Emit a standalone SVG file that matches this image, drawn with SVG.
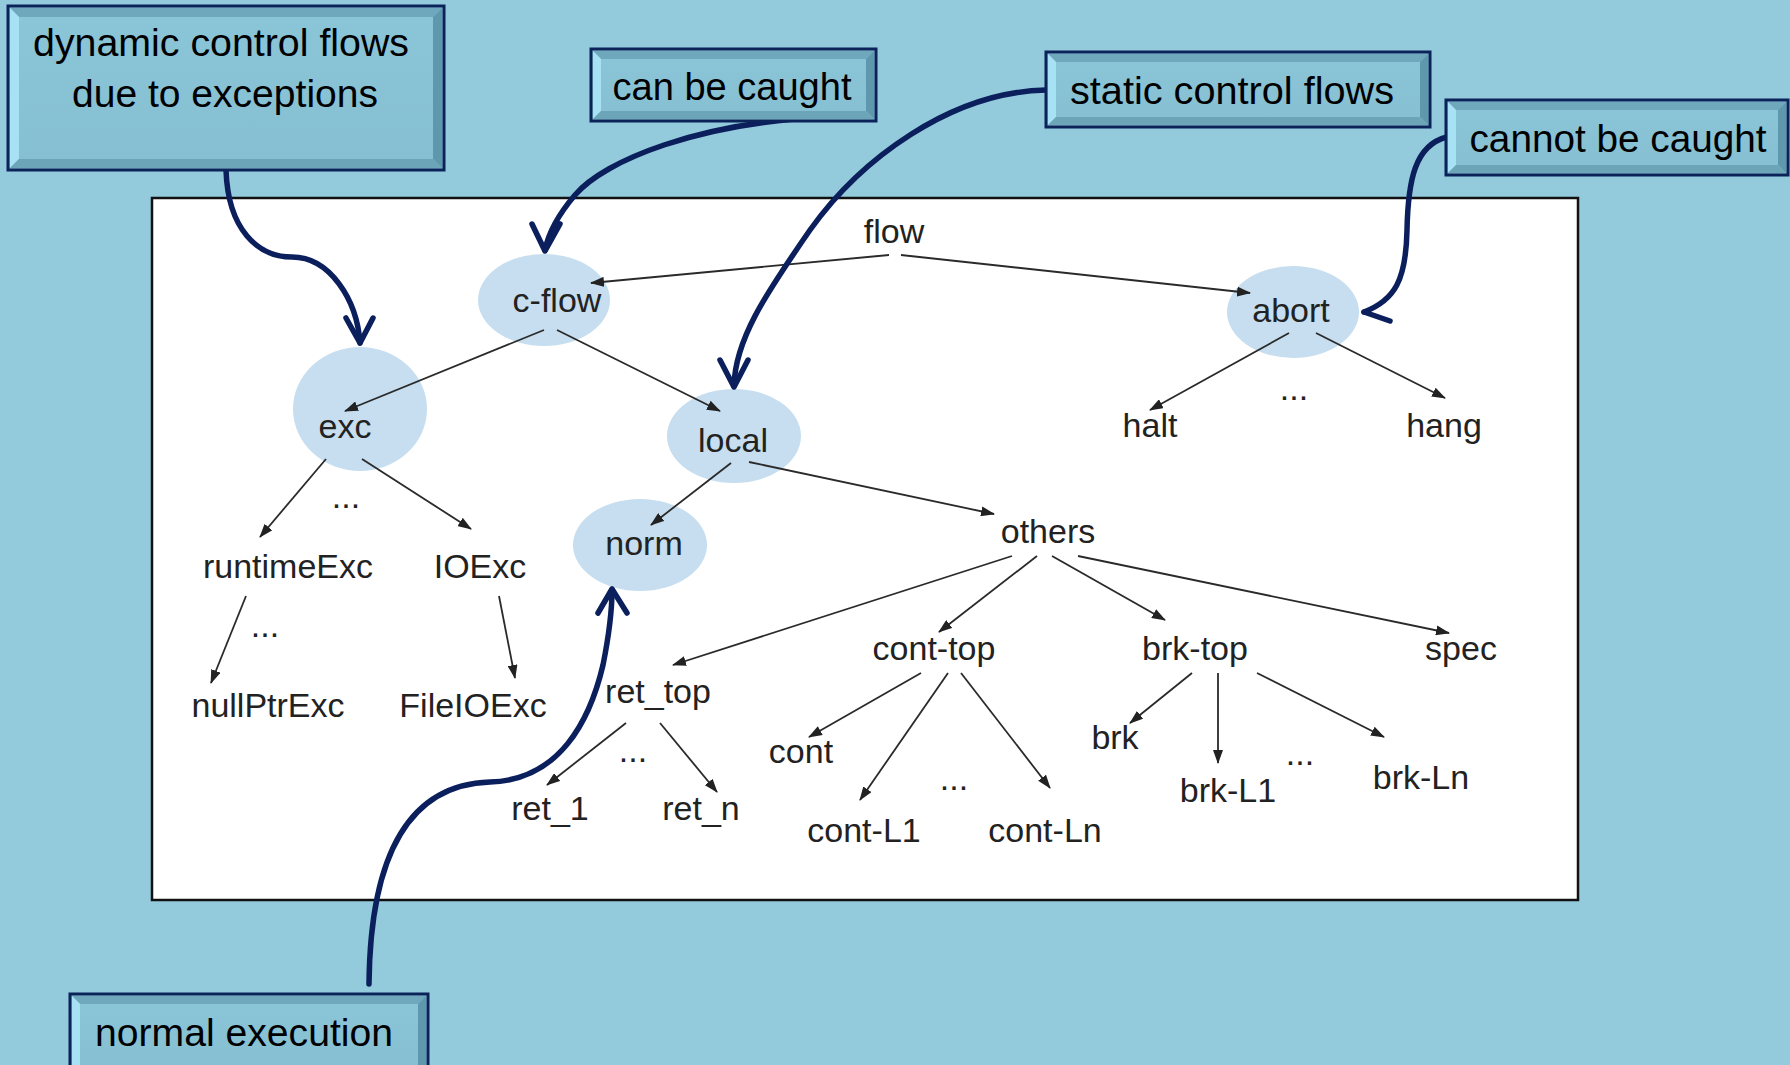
<svg xmlns="http://www.w3.org/2000/svg" width="1790" height="1065" viewBox="0 0 1790 1065">
<defs>
<marker id="ah" markerWidth="14" markerHeight="10" refX="13" refY="5" orient="auto" markerUnits="userSpaceOnUse">
<path d="M0,0 L14,5 L0,10 Z" fill="#222"/>
</marker>
<linearGradient id="boxfill" x1="0" y1="0" x2="0" y2="1">
<stop offset="0" stop-color="#8bc5d8"/>
<stop offset="1" stop-color="#86bfd2"/>
</linearGradient>
</defs>
<style>
.bg{fill:#93cbdd}
.panel{fill:#ffffff;stroke:#111;stroke-width:2.5}
.node ellipse{fill:#c6deef}
.lbl{font-family:"Liberation Sans",Arial,sans-serif;font-size:34px;fill:#222;text-anchor:middle}
.edge{stroke:#2a2a2a;stroke-width:1.8;fill:none;marker-end:url(#ah)}
.callarrow{stroke:#0b1f5c;stroke-width:5.5;fill:none;stroke-linecap:round;stroke-linejoin:round}
.box{fill:url(#boxfill)}
.frame{fill:none;stroke:#0b2358;stroke-width:3}
.bt{fill:#6fa8bd}
.bl{fill:#a6e2f3}
.br{fill:#5f97ac}
.bb{fill:#6da5b8}
.ct{font-family:"Liberation Sans",Arial,sans-serif;font-size:38px;fill:#000;text-anchor:middle}
</style>
<rect class="bg" x="0" y="0" width="1790" height="1065"/>
<rect class="panel" x="152" y="198" width="1426" height="702"/>

<g id="n-flow" class="node"><text class="lbl" x="894" y="243">flow</text></g>
<g id="n-cflow" class="node"><ellipse cx="544" cy="300" rx="66" ry="46"/><text class="lbl" x="557" y="312">c-flow</text></g>
<g id="n-abort" class="node"><ellipse cx="1293" cy="312" rx="66" ry="46"/><text class="lbl" x="1291" y="322">abort</text></g>
<g id="n-exc" class="node"><ellipse cx="360" cy="409" rx="67" ry="62"/><text class="lbl" x="345" y="438">exc</text></g>
<g id="n-local" class="node"><ellipse cx="734" cy="436" rx="67" ry="47"/><text class="lbl" x="733" y="452">local</text></g>
<g id="n-norm" class="node"><ellipse cx="640" cy="545" rx="67" ry="46"/><text class="lbl" x="644" y="555">norm</text></g>
<g id="n-halt" class="node"><text class="lbl" x="1150" y="437">halt</text></g>
<g id="n-hang" class="node"><text class="lbl" x="1444" y="437">hang</text></g>
<g id="n-others" class="node"><text class="lbl" x="1048" y="543">others</text></g>
<g id="n-runtimeExc" class="node"><text class="lbl" x="288" y="578">runtimeExc</text></g>
<g id="n-IOExc" class="node"><text class="lbl" x="480" y="578">IOExc</text></g>
<g id="n-nullPtrExc" class="node"><text class="lbl" x="268" y="717">nullPtrExc</text></g>
<g id="n-FileIOExc" class="node"><text class="lbl" x="473" y="717">FileIOExc</text></g>
<g id="n-ret_top" class="node"><text class="lbl" x="658" y="703">ret_top</text></g>
<g id="n-cont-top" class="node"><text class="lbl" x="934" y="660">cont-top</text></g>
<g id="n-brk-top" class="node"><text class="lbl" x="1195" y="660">brk-top</text></g>
<g id="n-spec" class="node"><text class="lbl" x="1461" y="660">spec</text></g>
<g id="n-cont" class="node"><text class="lbl" x="801" y="763">cont</text></g>
<g id="n-brk" class="node"><text class="lbl" x="1115" y="749">brk</text></g>
<g id="n-brk-L1" class="node"><text class="lbl" x="1228" y="802">brk-L1</text></g>
<g id="n-brk-Ln" class="node"><text class="lbl" x="1421" y="789">brk-Ln</text></g>
<g id="n-ret_1" class="node"><text class="lbl" x="550" y="820">ret_1</text></g>
<g id="n-ret_n" class="node"><text class="lbl" x="701" y="820">ret_n</text></g>
<g id="n-cont-L1" class="node"><text class="lbl" x="864" y="842">cont-L1</text></g>
<g id="n-cont-Ln" class="node"><text class="lbl" x="1045" y="842">cont-Ln</text></g>

<g id="ellipses-dots">
<text class="lbl" x="1294" y="400">...</text>
<text class="lbl" x="346" y="508">...</text>
<text class="lbl" x="265" y="637">...</text>
<text class="lbl" x="633" y="762">...</text>
<text class="lbl" x="954" y="790">...</text>
<text class="lbl" x="1300" y="765">...</text>
</g>

<g id="connectors">
<line class="edge" x1="889" y1="255" x2="591" y2="283"/>
<line class="edge" x1="901" y1="255" x2="1250" y2="293"/>
<line class="edge" x1="544" y1="330" x2="345" y2="411"/>
<line class="edge" x1="557" y1="330" x2="720" y2="411"/>
<line class="edge" x1="326" y1="459" x2="260" y2="537"/>
<line class="edge" x1="362" y1="459" x2="471" y2="529"/>
<line class="edge" x1="246" y1="596" x2="211" y2="683"/>
<line class="edge" x1="499" y1="596" x2="515" y2="678"/>
<line class="edge" x1="731" y1="463" x2="651" y2="525"/>
<line class="edge" x1="749" y1="462" x2="994" y2="514"/>
<line class="edge" x1="1289" y1="333" x2="1150" y2="410"/>
<line class="edge" x1="1316" y1="333" x2="1445" y2="398"/>
<line class="edge" x1="1012" y1="556" x2="673" y2="665"/>
<line class="edge" x1="1037" y1="556" x2="939" y2="632"/>
<line class="edge" x1="1052" y1="556" x2="1165" y2="620"/>
<line class="edge" x1="1078" y1="556" x2="1449" y2="633"/>
<line class="edge" x1="626" y1="723" x2="547" y2="785"/>
<line class="edge" x1="660" y1="723" x2="717" y2="792"/>
<line class="edge" x1="921" y1="673" x2="809" y2="737"/>
<line class="edge" x1="948" y1="673" x2="860" y2="800"/>
<line class="edge" x1="961" y1="673" x2="1050" y2="788"/>
<line class="edge" x1="1192" y1="673" x2="1130" y2="723"/>
<line class="edge" x1="1218" y1="673" x2="1218" y2="763"/>
<line class="edge" x1="1257" y1="673" x2="1384" y2="737"/>

<path class="callarrow" d="M226,170 C228,230 258,257 292,257 C330,257 357,300 360,343"/>
<polyline class="callarrow" points="346,318 360,343 373,318"/>

<path class="callarrow" d="M828,117 C700,122 605,160 575,195 C558,215 548,235 545,250"/>
<polyline class="callarrow" points="532,224 545,251 560,224"/>

<path class="callarrow" d="M1046,90 C950,92 860,160 810,230 C765,295 735,340 734,386"/>
<polyline class="callarrow" points="720,360 734,387 748,360"/>

<path class="callarrow" d="M1447,137 C1415,145 1408,180 1407,230 C1406,280 1395,300 1364,312"/>
<polyline class="callarrow" points="1364,312 1390,321"/>

<path class="callarrow" d="M369,984 C370,880 395,785 490,782 C560,780 590,720 603,665 C610,630 612,610 612,590"/>
<polyline class="callarrow" points="598,613 612,589 627,613"/>
</g>

<g id="c-dynamic">
<rect class="box" x="8" y="6" width="436" height="164"/>
<polygon class="bt" points="10,8 442,8 433,17 19,17"/>
<polygon class="bl" points="10,8 19,17 19,159 10,168"/>
<polygon class="br" points="442,8 442,168 433,159 433,17"/>
<polygon class="bb" points="10,168 442,168 433,159 19,159"/>
<rect class="frame" x="8" y="6" width="436" height="164"/>
<text class="ct" x="221" y="56" textLength="376" lengthAdjust="spacingAndGlyphs">dynamic control flows</text>
<text class="ct" x="225" y="107" textLength="306" lengthAdjust="spacingAndGlyphs">due to exceptions</text>
</g>

<g id="c-can">
<rect class="box" x="591" y="49" width="285" height="72"/>
<polygon class="bt" points="593,51 874,51 866,59 601,59"/>
<polygon class="bl" points="593,51 601,59 601,111 593,119"/>
<polygon class="br" points="874,51 874,119 866,111 866,59"/>
<polygon class="bb" points="593,119 874,119 866,111 601,111"/>
<rect class="frame" x="591" y="49" width="285" height="72"/>
<text class="ct" x="732" y="100" textLength="239" lengthAdjust="spacingAndGlyphs">can be caught</text>
</g>

<g id="c-static">
<rect class="box" x="1046" y="52" width="384" height="75"/>
<polygon class="bt" points="1048,54 1428,54 1420,62 1056,62"/>
<polygon class="bl" points="1048,54 1056,62 1056,117 1048,125"/>
<polygon class="br" points="1428,54 1428,125 1420,117 1420,62"/>
<polygon class="bb" points="1048,125 1428,125 1420,117 1056,117"/>
<rect class="frame" x="1046" y="52" width="384" height="75"/>
<text class="ct" x="1232" y="104" textLength="324" lengthAdjust="spacingAndGlyphs">static control flows</text>
</g>

<g id="c-cannot">
<rect class="box" x="1446" y="100" width="342" height="75"/>
<polygon class="bt" points="1448,102 1786,102 1778,110 1456,110"/>
<polygon class="bl" points="1448,102 1456,110 1456,165 1448,173"/>
<polygon class="br" points="1786,102 1786,173 1778,165 1778,110"/>
<polygon class="bb" points="1448,173 1786,173 1778,165 1456,165"/>
<rect class="frame" x="1446" y="100" width="342" height="75"/>
<text class="ct" x="1618" y="152" textLength="297" lengthAdjust="spacingAndGlyphs">cannot be caught</text>
</g>

<g id="c-normal">
<rect class="box" x="70" y="994" width="358" height="80"/>
<polygon class="bt" points="72,996 426,996 418,1004 80,1004"/>
<polygon class="bl" points="72,996 80,1004 80,1072 72,1072"/>
<polygon class="br" points="426,996 426,1072 418,1072 418,1004"/>
<rect class="frame" x="70" y="994" width="358" height="80"/>
<text class="ct" x="244" y="1046" textLength="298" lengthAdjust="spacingAndGlyphs">normal execution</text>
</g>
</svg>
